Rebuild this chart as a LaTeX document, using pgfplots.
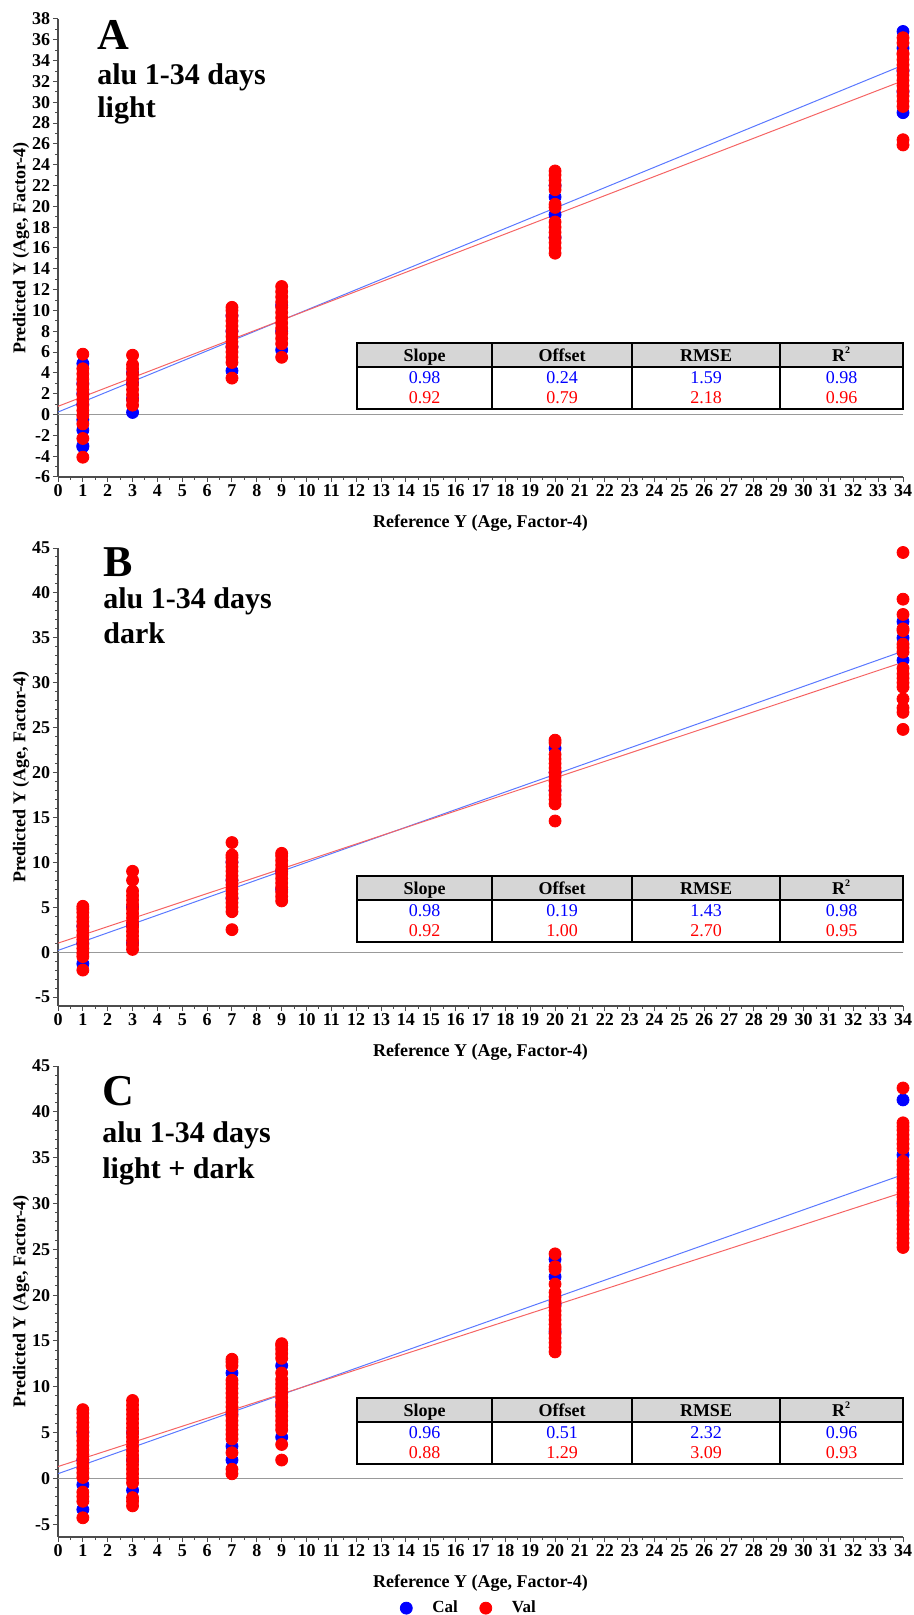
\documentclass[border=0pt]{standalone}
\usepackage{fontspec}
\setmainfont{Liberation Serif}
\usepackage{pgfplots}
\pgfplotsset{compat=1.18}

\definecolor{calc}{RGB}{0,0,255}
\definecolor{valc}{RGB}{255,0,0}
\definecolor{calline}{RGB}{90,120,255}
\definecolor{valline}{RGB}{245,100,100}
\definecolor{hdr}{RGB}{214,214,214}

\pgfplotsset{
  panel/.style={
    scale only axis, width=422.5pt, xmin=0, xmax=34, clip=false,
    axis x line=bottom, axis y line=left,
    axis line style={-, draw=black!70, line width=0.6pt},
    xtick={0,...,34}, minor x tick num=1,
    tick style={black!70, line width=0.5pt}, major tick length=2.5pt, minor tick length=1.5pt,
    tick align=outside,
    ticklabel style={font=\bfseries\fontsize{9}{10}\selectfont, inner sep=1.2pt},
    /pgf/number format/assume math mode=true,
    xlabel={Reference Y (Age, Factor-4)}, ylabel={Predicted Y (Age, Factor-4)},
    label style={font=\bfseries\fontsize{9}{11}\selectfont},
    xlabel style={at={(axis description cs:0.5,0)}, anchor=center, yshift=-23pt},
    ylabel style={at={(axis description cs:-0.0438,0.5)}, anchor=center},
  },
  cal/.style={only marks, mark=*, mark size=3pt, color=calc, mark options={draw=calc, fill=calc}},
  val/.style={only marks, mark=*, mark size=3pt, color=valc, mark options={draw=valc, fill=valc}},
  calln/.style={calline, line width=0.5pt, forget plot},
  valln/.style={valline, line width=0.5pt, forget plot},
  zeroln/.style={black!40, line width=0.6pt, forget plot},
}

\newcommand{\mtable}[9]{%
  \begin{scope}[shift={#1}]
    \fill[hdr] (0,0) rectangle (273pt,-12pt);
    \draw[line width=0.8pt] (0,0) rectangle (273pt,-33pt);
    \draw[line width=0.8pt] (0,-12pt) -- (273pt,-12pt);
    \foreach \xx in {67.5,137.5,211.5} \draw[line width=0.8pt] (\xx pt,0) -- (\xx pt,-33pt);
    \begin{scope}[every node/.style={font=\bfseries\fontsize{9}{10}\selectfont, anchor=base, inner sep=0pt}]
      \node at (33.75pt,-9.2pt) {Slope};
      \node at (102.5pt,-9.2pt) {Offset};
      \node at (174.5pt,-9.2pt) {RMSE};
      \node at (242.25pt,-9.2pt) {R\textsuperscript{\fontsize{5}{5}\selectfont 2}};
    \end{scope}
    \begin{scope}[every node/.style={font=\fontsize{9}{10}\selectfont, anchor=base, inner sep=0pt}]
      \node[text=calc] at (33.75pt,-20.3pt) {#2};
      \node[text=calc] at (102.5pt,-20.3pt) {#3};
      \node[text=calc] at (174.5pt,-20.3pt) {#4};
      \node[text=calc] at (242.25pt,-20.3pt) {#5};
      \node[text=valc] at (33.75pt,-30.3pt) {#6};
      \node[text=valc] at (102.5pt,-30.3pt) {#7};
      \node[text=valc] at (174.5pt,-30.3pt) {#8};
      \node[text=valc] at (242.25pt,-30.3pt) {#9};
    \end{scope}
  \end{scope}}

\begin{document}
\begin{tikzpicture}
\useasboundingbox (0,0) rectangle (457pt,-807.5pt);

% ---------------- Panel A ----------------
\begin{axis}[panel, at={(29pt,-9.5pt)}, anchor=north west, height=229pt,
  ymin=-6, ymax=38, ytick={-6,-4,...,38}, minor y tick num=1]
\addplot[zeroln] coordinates {(0,0)(34,0)};
\addplot[calln] coordinates {(0,0.24)(34,33.56)};
\addplot[valln] coordinates {(0,0.79)(34,32.07)};
\addplot[cal, forget plot] coordinates {
(1,-3.1)(1,-3.0)(1,-1.5)(1,-0.5)(1,1.0)(1,2.0)(1,3.0)(1,4.9)
(3,0.2)(3,1.5)(3,3.0)(3,4.0)
(7,4.2)(7,6.5)(7,8.0)(7,9.5)
(9,6.2)(9,8.0)(9,10.5)
(20,17.0)(20,19.2)(20,20.9)(20,22.0)
(34,29.0)(34,31.0)(34,33.0)(34,35.2)(34,36.8)};
\addplot[val, forget plot] coordinates {
(1,-4.1)(1,-2.3)(1,-0.9)(1,-0.1)(1,0.4)(1,0.9)(1,1.4)(1,1.9)(1,2.4)(1,2.9)(1,3.4)(1,3.9)(1,4.4)(1,5.8)
(3,0.9)(3,1.4)(3,1.9)(3,2.4)(3,2.9)(3,3.4)(3,3.9)(3,4.4)(3,4.8)(3,5.7)
(7,3.5)(7,5.0)(7,5.5)(7,6.0)(7,6.5)(7,7.0)(7,7.5)(7,8.0)(7,8.5)(7,9.0)(7,9.5)(7,10.0)(7,10.3)
(9,5.5)(9,6.8)(9,7.3)(9,7.8)(9,8.3)(9,8.8)(9,9.3)(9,9.8)(9,10.3)(9,10.8)(9,11.3)(9,11.8)(9,12.3)
(20,15.5)(20,16.0)(20,16.5)(20,17.0)(20,17.5)(20,18.0)(20,18.5)(20,19.9)(20,20.2)(20,21.6)(20,22.0)(20,22.5)(20,23.0)(20,23.4)
(34,25.9)(34,26.4)(34,29.6)(34,30.1)(34,30.6)(34,31.1)(34,31.6)(34,32.1)(34,32.6)(34,33.1)(34,33.6)(34,34.1)(34,34.6)(34,34.7)(34,35.7)(34,36.2)};
\end{axis}
\mtable{(178.5pt,-171.5pt)}{0.98}{0.24}{1.59}{0.98}{0.92}{0.79}{2.18}{0.96}
\node[anchor=base west, inner sep=0pt, font=\bfseries\fontsize{22}{22}\selectfont] at (48.5pt,-25pt) {A};
\node[anchor=base west, inner sep=0pt, font=\bfseries\fontsize{15}{16}\selectfont] at (48.5pt,-42.5pt) {alu 1-34 days};
\node[anchor=base west, inner sep=0pt, font=\bfseries\fontsize{15}{16}\selectfont] at (48.5pt,-59pt) {light};

% ---------------- Panel B ----------------
\begin{axis}[panel, at={(29pt,-274pt)}, anchor=north west, height=229pt,
  ymin=-6, ymax=45, ytick={-5,0,...,45}, minor y tick num=4]
\addplot[zeroln] coordinates {(0,0)(34,0)};
\addplot[calln] coordinates {(0,0.19)(34,33.51)};
\addplot[valln] coordinates {(0,1.00)(34,32.28)};
\addplot[cal, forget plot] coordinates {
(1,-1.3)(1,1.0)(1,2.9)
(3,1.0)(3,3.0)(3,5.0)
(7,6.0)(7,8.0)(7,10.0)
(9,7.0)(9,9.0)
(20,18.0)(20,20.0)(20,22.7)
(34,32.5)(34,35.0)(34,36.8)};
\addplot[val, forget plot] coordinates {
(1,-2.0)(1,-0.5)(1,-0.1)(1,0.4)(1,0.9)(1,1.4)(1,1.9)(1,2.4)(1,2.9)(1,3.4)(1,3.9)(1,4.4)(1,4.8)(1,5.1)
(3,0.3)(3,0.8)(3,1.3)(3,1.8)(3,2.3)(3,2.8)(3,3.3)(3,3.8)(3,4.3)(3,4.8)(3,5.3)(3,5.8)(3,6.3)(3,6.8)(3,8.0)(3,9.0)
(7,2.5)(7,4.5)(7,5.0)(7,5.5)(7,6.0)(7,6.5)(7,7.0)(7,7.5)(7,8.0)(7,8.5)(7,9.0)(7,9.5)(7,10.0)(7,10.5)(7,10.8)(7,12.2)
(9,5.7)(9,6.2)(9,6.7)(9,7.2)(9,7.7)(9,8.2)(9,8.7)(9,9.2)(9,9.7)(9,10.2)(9,10.7)(9,11.0)
(20,14.6)(20,16.5)(20,17.0)(20,17.5)(20,18.0)(20,18.5)(20,19.0)(20,19.5)(20,20.0)(20,20.5)(20,21.0)(20,21.5)(20,22.0)(20,23.3)(20,23.6)
(34,24.8)(34,26.7)(34,27.2)(34,28.2)(34,29.5)(34,30.0)(34,30.5)(34,31.0)(34,31.6)(34,33.4)(34,33.9)(34,34.3)(34,35.8)(34,36.0)(34,37.6)(34,39.3)(34,44.5)};
\end{axis}
\mtable{(178.5pt,-438pt)}{0.98}{0.19}{1.43}{0.98}{0.92}{1.00}{2.70}{0.95}
\node[anchor=base west, inner sep=0pt, font=\bfseries\fontsize{22}{22}\selectfont] at (51.5pt,-288pt) {B};
\node[anchor=base west, inner sep=0pt, font=\bfseries\fontsize{15}{16}\selectfont] at (51.5pt,-304pt) {alu 1-34 days};
\node[anchor=base west, inner sep=0pt, font=\bfseries\fontsize{15}{16}\selectfont] at (51.5pt,-321.5pt) {dark};

% ---------------- Panel C ----------------
\begin{axis}[panel, at={(29pt,-533pt)}, anchor=north west, height=235.5pt,
  ymin=-6.4, ymax=45, ytick={-5,0,...,45}, minor y tick num=4,
  legend style={at={(0.4876,-0.151)}, anchor=center, draw=none, fill=none,
    legend columns=2, font=\bfseries\fontsize{8.5}{10}\selectfont,
    /tikz/column 1/.style={column sep=8pt},
    /tikz/column 2/.style={column sep=9pt},
    /tikz/column 3/.style={column sep=8pt}}]
\addplot[zeroln] coordinates {(0,0)(34,0)};
\addplot[calln] coordinates {(0,0.51)(34,33.15)};
\addplot[valln] coordinates {(0,1.29)(34,31.21)};
\addplot[cal] coordinates {
(1,-3.4)(1,-0.7)(1,2.0)(1,5.0)
(3,-1.3)(3,2.0)(3,5.0)
(7,2.0)(7,3.5)(7,7.0)(7,11.5)
(9,4.5)(9,8.0)(9,12.3)
(20,16.0)(20,19.0)(20,22.0)(20,23.9)
(34,30.0)(34,35.3)(34,41.3)};
\addlegendentry{Cal}
\addplot[val] coordinates {
(1,-4.3)(1,-2.5)(1,-2.0)(1,-1.5)(1,0.1)(1,0.6)(1,1.1)(1,1.6)(1,2.1)(1,2.6)(1,3.1)(1,3.6)(1,4.1)(1,4.6)(1,5.1)(1,5.6)(1,6.1)(1,6.6)(1,7.1)(1,7.5)
(3,-3.0)(3,-2.5)(3,-2.1)(3,-0.5)(3,0.0)(3,0.5)(3,1.0)(3,1.5)(3,2.0)(3,2.5)(3,3.0)(3,3.5)(3,4.0)(3,4.5)(3,5.0)(3,5.5)(3,6.0)(3,6.5)(3,7.0)(3,7.5)(3,8.0)(3,8.5)
(7,0.5)(7,1.0)(7,2.8)(7,4.3)(7,4.8)(7,5.3)(7,5.8)(7,6.3)(7,6.8)(7,7.3)(7,7.8)(7,8.3)(7,8.8)(7,9.3)(7,9.8)(7,10.3)(7,10.7)(7,12.3)(7,12.7)(7,13.0)
(9,2.0)(9,3.7)(9,5.3)(9,5.8)(9,6.3)(9,6.8)(9,7.3)(9,7.8)(9,8.3)(9,8.8)(9,9.3)(9,9.8)(9,10.3)(9,10.8)(9,11.5)(9,13.1)(9,13.6)(9,14.1)(9,14.5)(9,14.7)
(20,13.8)(20,14.3)(20,14.8)(20,15.3)(20,15.8)(20,16.3)(20,16.8)(20,17.3)(20,17.8)(20,18.3)(20,18.8)(20,19.3)(20,19.8)(20,20.3)(20,21.2)(20,22.8)(20,23.1)(20,24.5)
(34,25.2)(34,25.7)(34,26.2)(34,26.7)(34,27.2)(34,27.7)(34,28.2)(34,28.7)(34,29.2)(34,29.7)(34,30.2)(34,30.7)(34,31.2)(34,31.7)(34,32.2)(34,32.7)(34,33.2)(34,33.7)(34,34.2)(34,34.6)(34,36.0)(34,36.5)(34,37.0)(34,37.5)(34,38.0)(34,38.4)(34,38.8)(34,42.6)};
\addlegendentry{Val}
\end{axis}
\mtable{(178.5pt,-699pt)}{0.96}{0.51}{2.32}{0.96}{0.88}{1.29}{3.09}{0.93}
\node[anchor=base west, inner sep=0pt, font=\bfseries\fontsize{22}{22}\selectfont] at (51pt,-552.5pt) {C};
\node[anchor=base west, inner sep=0pt, font=\bfseries\fontsize{15}{16}\selectfont] at (51pt,-571pt) {alu 1-34 days};
\node[anchor=base west, inner sep=0pt, font=\bfseries\fontsize{15}{16}\selectfont] at (51pt,-589pt) {light + dark};
\end{tikzpicture}
\end{document}
